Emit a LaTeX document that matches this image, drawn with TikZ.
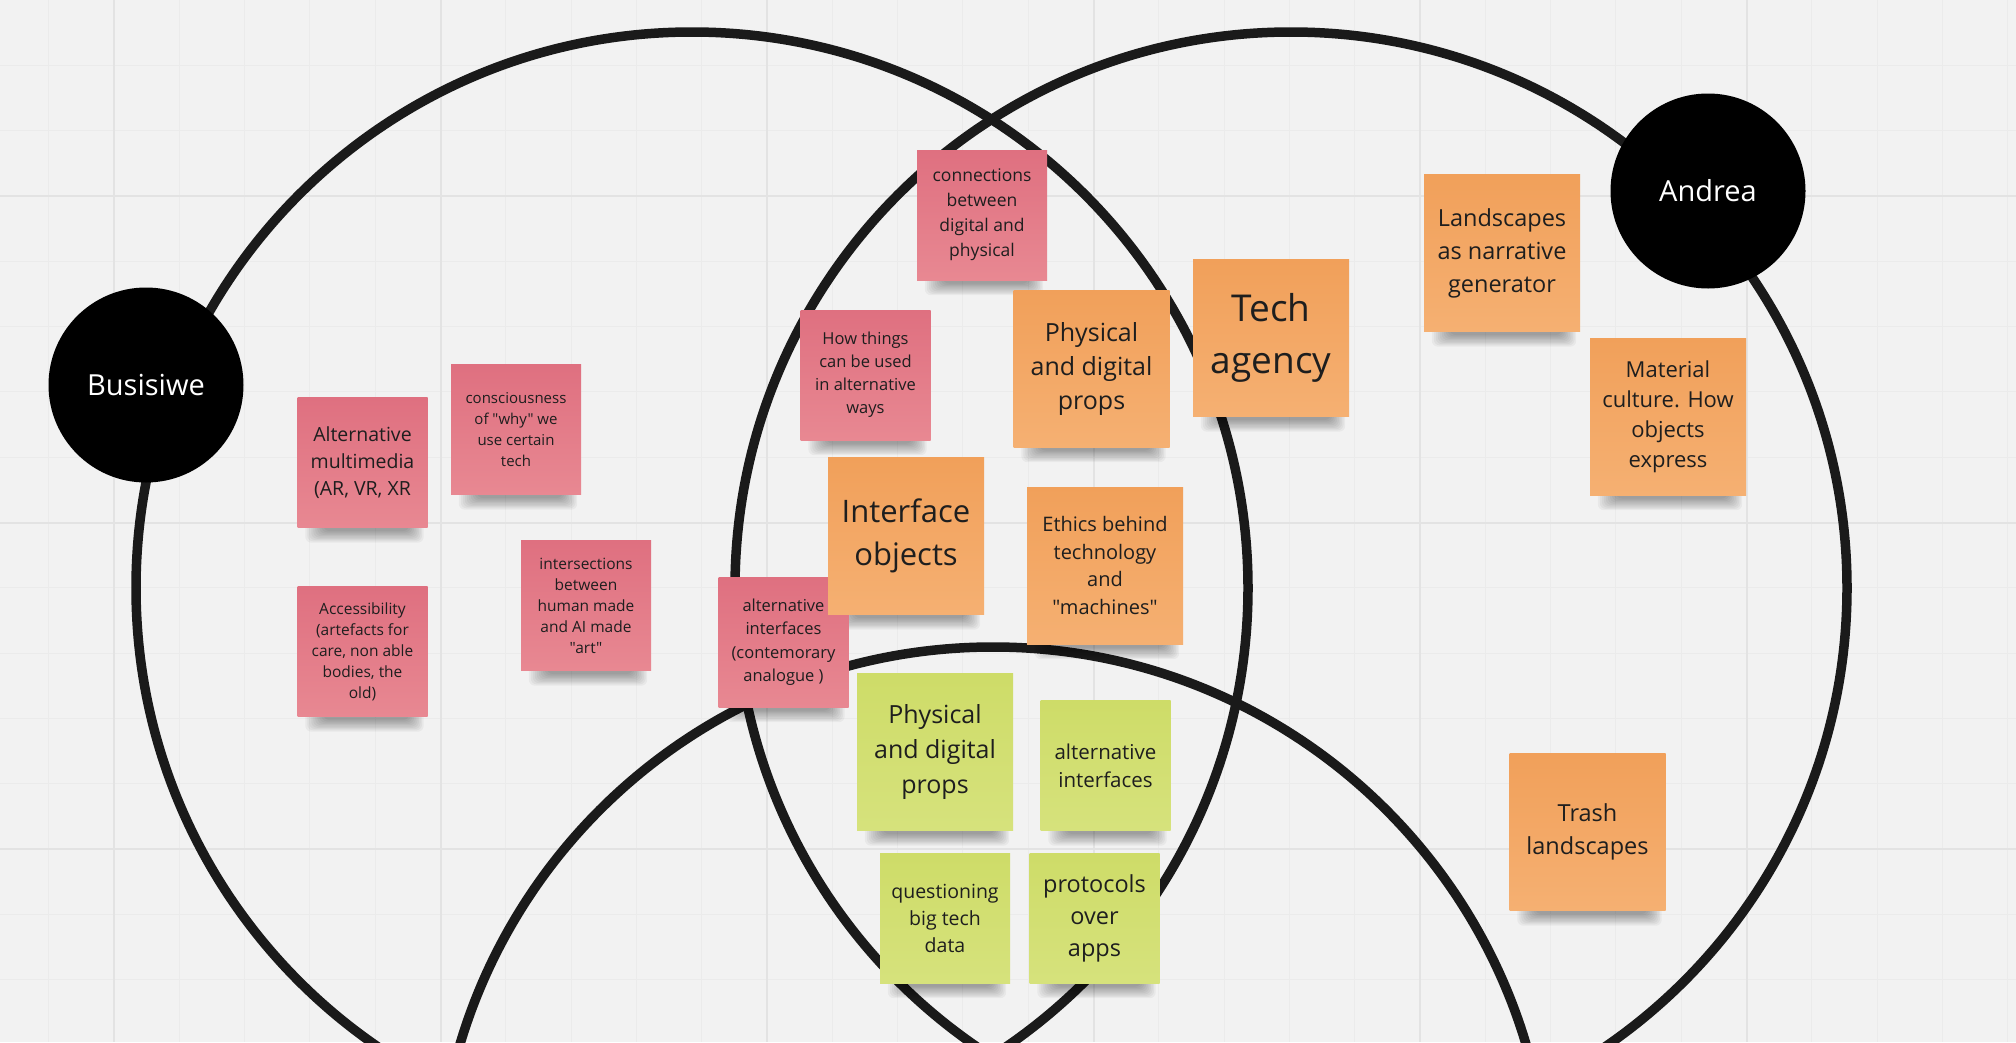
\documentclass[tikz,border=0pt]{standalone}
\usepackage{fontspec}
\setmainfont{Open Sans}[Ligatures=TeXOff]
\usetikzlibrary{calc}
\pgfdeclarelayer{bg}
\pgfdeclarelayer{shd}
\pgfsetlayers{bg,shd,main}
\definecolor{bgcol}{HTML}{F2F2F2}
\definecolor{gridminor}{HTML}{EBEBEB}
\definecolor{gridmajor}{HTML}{E3E3E3}
\definecolor{ringcol}{HTML}{1A1A1A}
\definecolor{pinktop}{HTML}{DF7080}
\definecolor{pinkbot}{HTML}{E88892}
\definecolor{orangetop}{HTML}{F1A05A}
\definecolor{orangebot}{HTML}{F5B072}
\definecolor{greentop}{HTML}{CEDC68}
\definecolor{greenbot}{HTML}{D6E27C}
\definecolor{inkcol}{HTML}{1E1E1E}
\begin{document}
\begin{tikzpicture}[x=1pt,y=-1pt,
  ring/.style={draw=ringcol,line width=9.5pt},
  person/.style={circle,fill=black,minimum size=195pt,inner sep=0pt,text=white,font=\fontsize{29}{35}\selectfont},
  notebase/.style={rectangle,inner sep=0pt,align=center,text=inkcol},
  small/.style={notebase,minimum width=130pt,minimum height=130pt},
  large/.style={notebase,minimum width=156pt,minimum height=157pt},
  pinknote/.style={top color=pinktop,bottom color=pinkbot},
  orangenote/.style={top color=orangetop,bottom color=orangebot},
  greennote/.style={top color=greentop,bottom color=greenbot},
  shadowpart/.style={fill=black,rounded corners=6pt,opacity=0.04}
]
\useasboundingbox (0,0) rectangle (2016,1042);
\begin{pgfonlayer}{bg}
\fill[bgcol] (0,0) rectangle (2016,1042);
\foreach \k in {0,...,30} {
  \draw[gridminor,line width=1pt] ({48.7+65.3*\k},0) -- ({48.7+65.3*\k},1042);
}
\foreach \k in {1,...,15} {
  \draw[gridminor,line width=1pt] (0,{0.1+65.3*\k}) -- (2016,{0.1+65.3*\k});
}
\foreach \k in {0,...,5} {
  \draw[gridmajor,line width=2pt] ({114+326.5*\k},0) -- ({114+326.5*\k},1042);
}
\foreach \k in {0,...,2} {
  \draw[gridmajor,line width=2pt] (0,{196+326.5*\k}) -- (2016,{196+326.5*\k});
}
\draw[ring] (692,588) circle [radius=556pt];
\draw[ring] (1291,588) circle [radius=556pt];
\draw[ring] (993,1203) circle [radius=556pt];
\end{pgfonlayer}

% people
\node[person] (busisiwe) at (146,385) {Busisiwe};
\node[person] (andrea) at (1708,191) {Andrea};

% pink notes
\node[small,pinknote,font=\fontsize{17.5}{25}\selectfont] (conn) at (982,215) {connections\\between\\digital and\\physical};
\node[small,pinknote,font=\fontsize{16.5}{23}\selectfont] (how) at (865.5,375) {How things\\can be used\\in alternative\\ways};
\node[small,pinknote,font=\fontsize{15}{21}\selectfont] (consc) at (516,429.5) {consciousness\\of "why" we\\use certain\\tech};
\node[small,pinknote,font=\fontsize{19.5}{27}\selectfont] (altmm) at (362.5,462.5) {Alternative\\multimedia\\(AR, VR, XR};
\node[small,pinknote,font=\fontsize{15.5}{21}\selectfont] (access) at (362.5,651.5) {Accessibility\\(artefacts for\\care, non able\\bodies, the\\old)};
\node[small,pinknote,font=\fontsize{15.5}{21}\selectfont] (inters) at (586,605.5) {intersections\\between\\human made\\and AI made\\"art"};
\node[small,pinknote,font=\fontsize{16.5}{23.5}\selectfont] (altint) at (783.5,642) {alternative\\interfaces\\(contemorary\\analogue )};

% orange notes
\node[large,orangenote,font=\fontsize{31}{43}\selectfont] (iface) at (906,536) {Interface\\objects};
\node[large,orangenote,font=\fontsize{25}{34}\selectfont] (physo) at (1091.5,368.5) {Physical\\and digital\\props};
\node[large,orangenote,font=\fontsize{37}{52}\selectfont] (tech) at (1271,338) {Tech\\agency};
\node[large,orangenote,font=\fontsize{23.5}{33}\selectfont] (land) at (1502,253) {Landscapes\\as narrative\\generator};
\node[large,orangenote,font=\fontsize{22}{30}\selectfont] (mat) at (1668,416.5) {Material\\culture. How\\objects\\express};
\node[large,orangenote,font=\fontsize{20}{27.5}\selectfont] (ethics) at (1105,565.5) {Ethics behind\\technology\\and\\"machines"};
\node[large,orangenote,font=\fontsize{23.5}{33}\selectfont] (trash) at (1587.5,832) {Trash\\landscapes};

% green notes
\node[large,greennote,font=\fontsize{25}{35}\selectfont] (physg) at (935,752) {Physical\\and digital\\props};
\node[small,greennote,font=\fontsize{20.5}{28}\selectfont] (altintg) at (1105.5,765.5) {alternative\\interfaces};
\node[small,greennote,font=\fontsize{19.5}{27}\selectfont] (quest) at (945,918) {questioning\\big tech\\data};
\node[small,greennote,font=\fontsize{23.5}{32}\selectfont] (proto) at (1094.5,918) {protocols\\over\\apps};

% soft shadows under the notes
\begin{pgfonlayer}{shd}
\foreach \n in {conn,how,consc,altmm,access,inters,altint,iface,physo,tech,land,mat,ethics,trash,physg,altintg,quest,proto} {
  \foreach \i in {0,...,9} {
    \fill[shadowpart] ($(\n.south west)+({8+2*\i},-8)$) rectangle ($(\n.south east)+({-4-1.6*\i},{15-1.3*\i})$);
  }
}
\end{pgfonlayer}
\end{tikzpicture}
\end{document}
